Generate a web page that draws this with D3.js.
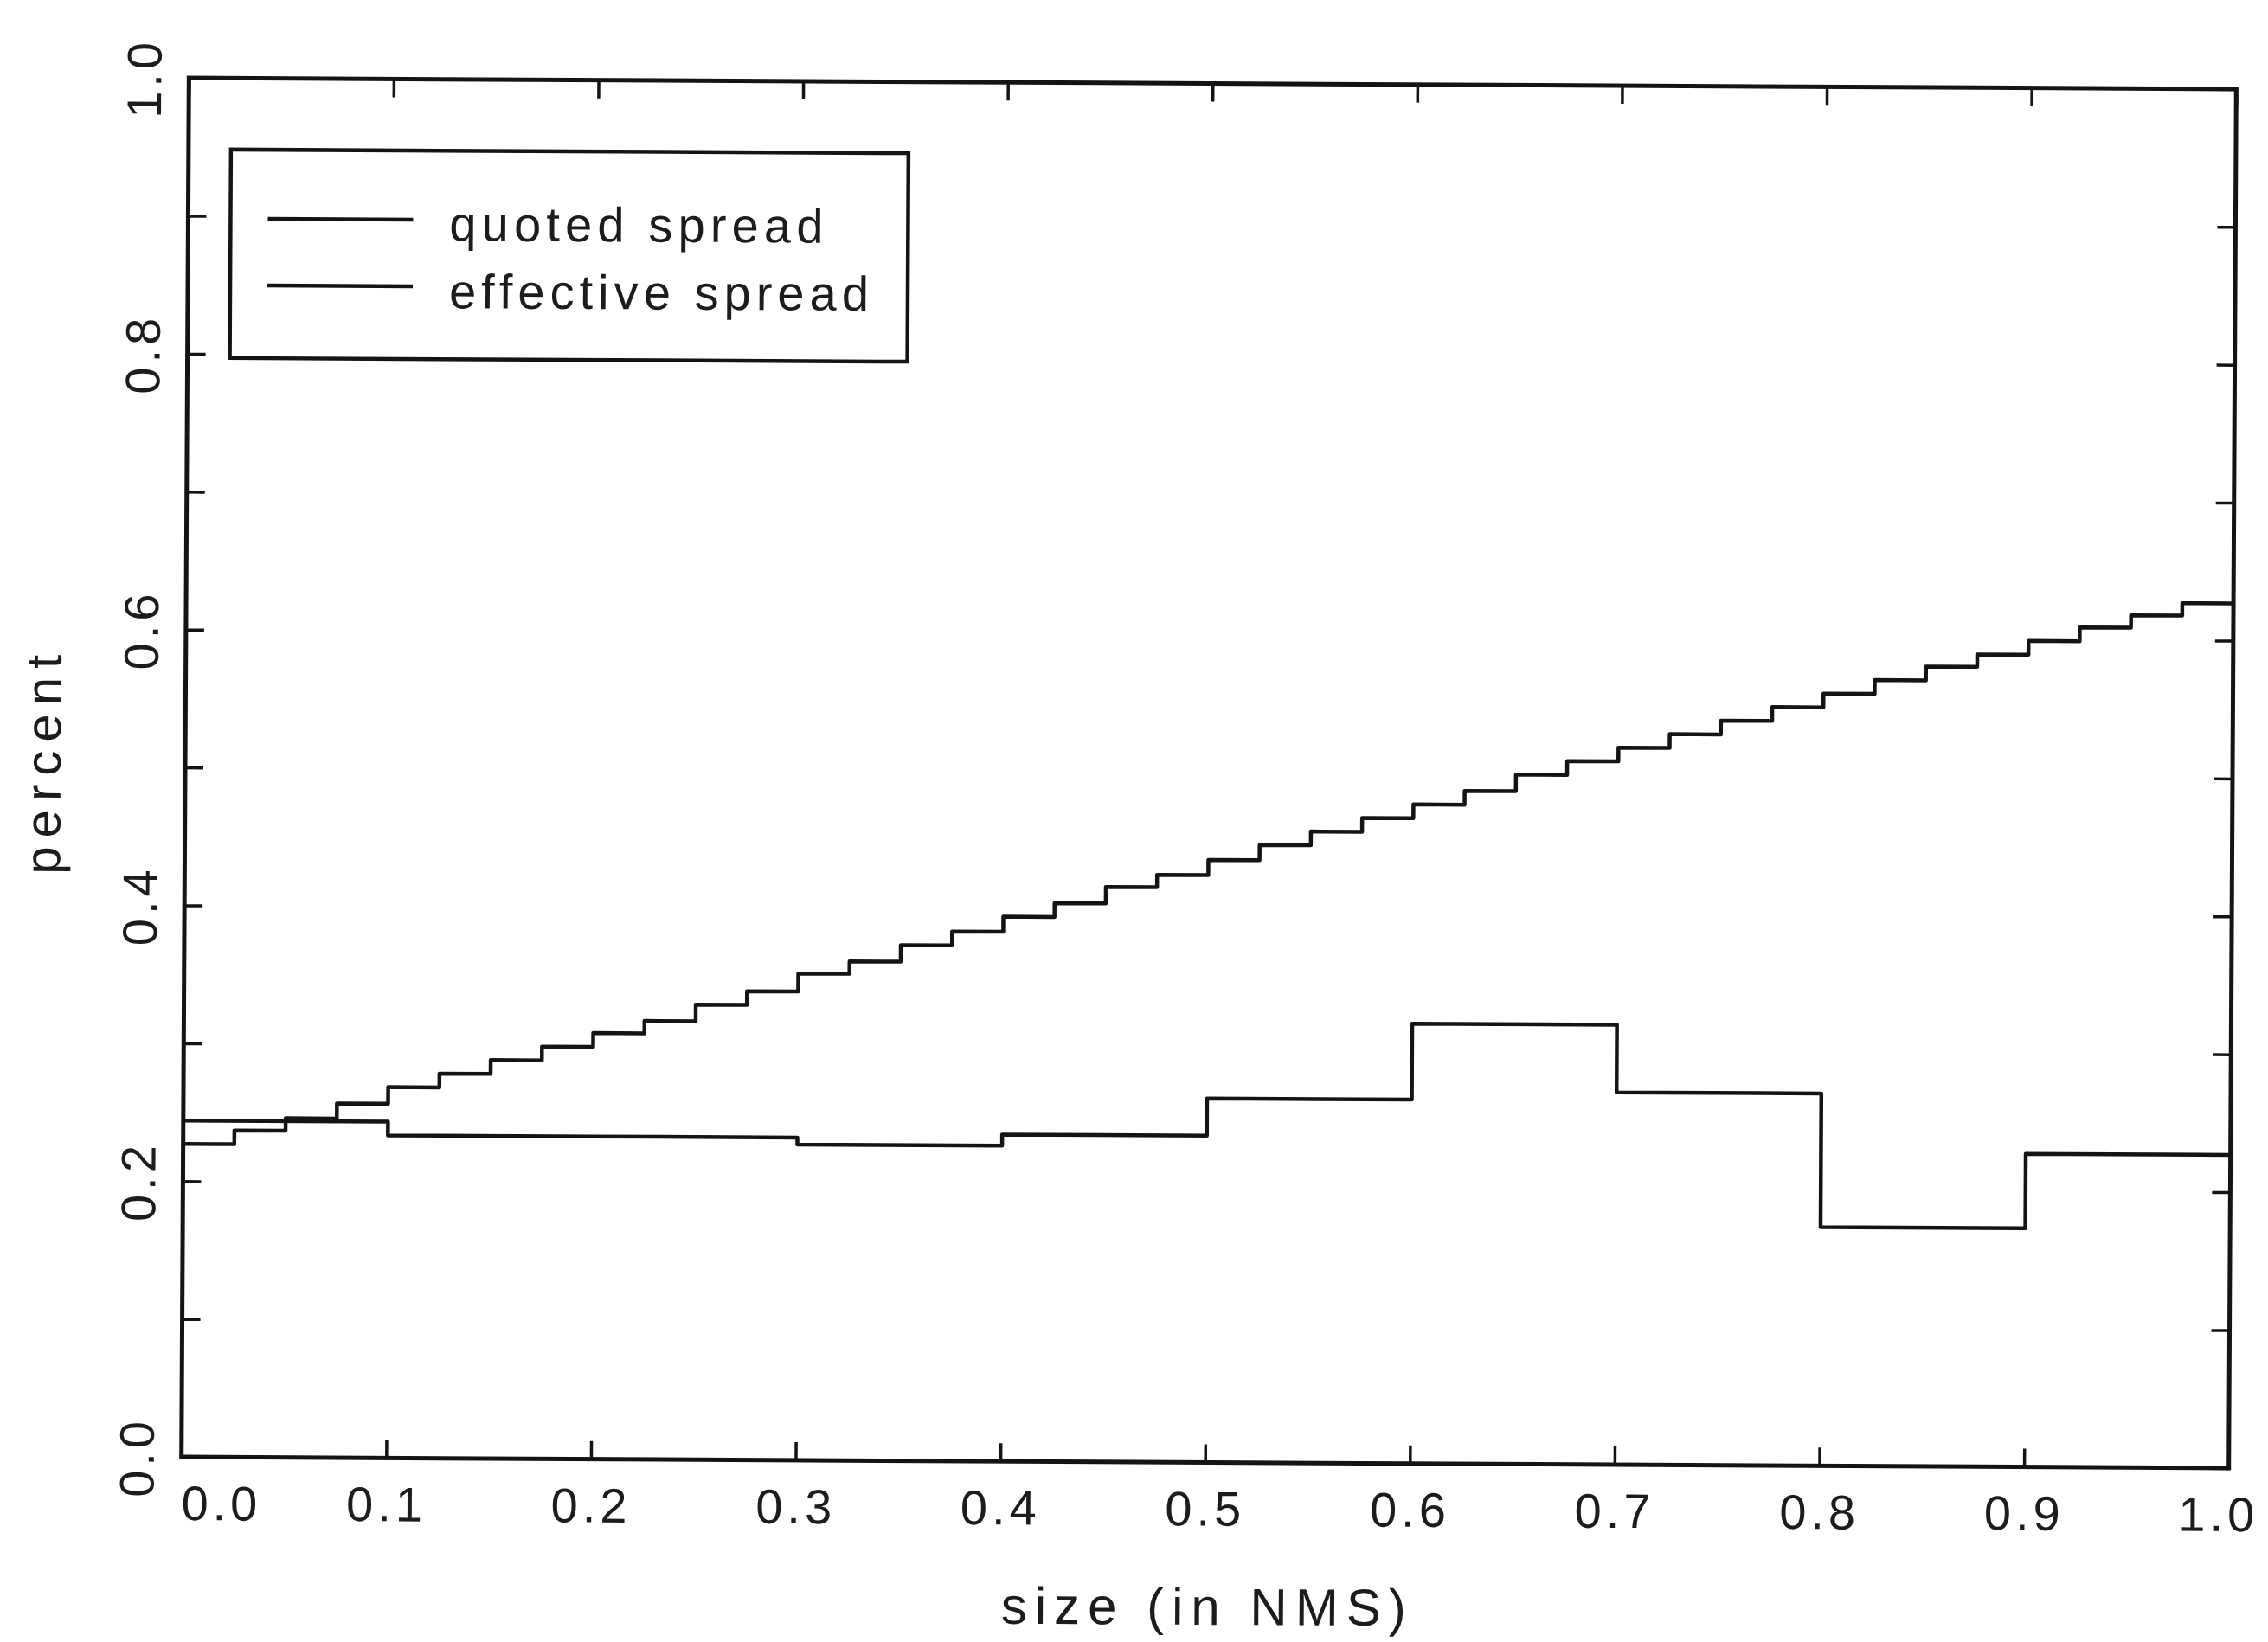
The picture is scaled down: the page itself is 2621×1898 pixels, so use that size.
<!DOCTYPE html>
<html>
<head>
<meta charset="utf-8">
<script src="https://cdn.jsdelivr.net/npm/d3@7"></script>
<style>
  html, body { margin: 0; padding: 0; background: #ffffff; }
  svg { display: block; }
  text { font-family: "Liberation Sans", "DejaVu Sans", sans-serif; fill: #1c1c1c; }
</style>
</head>
<body>
<svg id="chart" width="2621" height="1898"></svg>
<script>
// ---------------- data ----------------
const quotedBinStart = [0.000, 0.025, 0.050, 0.075, 0.100, 0.125, 0.150, 0.175, 0.200, 0.225,
                        0.250, 0.275, 0.300, 0.325, 0.350, 0.375, 0.400, 0.425, 0.450, 0.475,
                        0.500, 0.525, 0.550, 0.575, 0.600, 0.625, 0.650, 0.675, 0.700, 0.725,
                        0.750, 0.775, 0.800, 0.825, 0.850, 0.875, 0.900, 0.925, 0.950, 0.975];
const quotedSpread   = [0.227, 0.237, 0.246, 0.257, 0.269, 0.279, 0.289, 0.299, 0.309, 0.318,
                        0.330, 0.340, 0.353, 0.362, 0.374, 0.384, 0.395, 0.405, 0.417, 0.426,
                        0.437, 0.448, 0.458, 0.468, 0.478, 0.488, 0.500, 0.510, 0.520, 0.530,
                        0.540, 0.550, 0.560, 0.570, 0.580, 0.589, 0.599, 0.609, 0.618, 0.627];
const effectiveBinStart = [0.0, 0.1, 0.2, 0.3, 0.4, 0.5, 0.6, 0.7, 0.8, 0.9];
const effectiveSpread   = [0.244, 0.234, 0.234, 0.229, 0.237, 0.264, 0.319, 0.270, 0.173, 0.227];
const binEnd = 1.0;

const xTickValues = [0.0, 0.1, 0.2, 0.3, 0.4, 0.5, 0.6, 0.7, 0.8, 0.9, 1.0];
const xTickLabels = ["0.0", "0.1", "0.2", "0.3", "0.4", "0.5", "0.6", "0.7", "0.8", "0.9", "1.0"];
const yTickValues = [0.0, 0.1, 0.2, 0.3, 0.4, 0.5, 0.6, 0.7, 0.8, 0.9, 1.0];
const yLabelValues = [0.0, 0.2, 0.4, 0.6, 0.8, 1.0];
const yTickLabels = ["0.0", "0.2", "0.4", "0.6", "0.8", "1.0"];

const seriesNames = ["quoted spread", "effective spread"];
const xTitle = "size (in NMS)";
const yTitle = "percent";

// ---------------- layout ----------------
const plot = { left: 214, right: 2580, top: 96.5, bottom: 1690.5 };
const cx = (plot.left + plot.right) / 2, cy = (plot.top + plot.bottom) / 2;
const ink = "#141414";
const tickLen = 21;

const svg = d3.select("#chart");
svg.append("rect").attr("width", 2621).attr("height", 1898).attr("fill", "#ffffff");

// the scanned page is very slightly rotated
const g = svg.append("g").attr("transform", `rotate(0.31, ${cx}, ${cy})`);

const x = d3.scaleLinear().domain([0, 1]).range([plot.left, plot.right]);
const y = d3.scaleLinear().domain([0, 1]).range([plot.bottom, plot.top]);

// ---------------- axes ----------------
const fmtX = d => xTickLabels[xTickValues.indexOf(d)];

const gBottom = g.append("g").attr("transform", `translate(0,${plot.bottom})`)
  .call(d3.axisBottom(x).tickValues(xTickValues).tickSize(-tickLen).tickSizeOuter(0).tickFormat(fmtX));
const gTop = g.append("g").attr("transform", `translate(0,${plot.top})`)
  .call(d3.axisTop(x).tickValues(xTickValues).tickSize(-tickLen).tickSizeOuter(0).tickFormat(""));
const gLeft = g.append("g").attr("transform", `translate(${plot.left},0)`)
  .call(d3.axisLeft(y).tickValues(yTickValues).tickSize(-tickLen).tickSizeOuter(0).tickFormat(""));
const gLeftLab = g.append("g").attr("transform", `translate(${plot.left},0)`)
  .call(d3.axisLeft(y).tickValues(yLabelValues).tickSize(0).tickSizeOuter(0)
        .tickFormat(d => yTickLabels[yLabelValues.indexOf(d)]));
const gRight = g.append("g").attr("transform", `translate(${plot.right},0)`)
  .call(d3.axisRight(y).tickValues(yTickValues).tickSize(-tickLen).tickSizeOuter(0).tickFormat(""));

[gBottom, gTop, gLeft, gLeftLab, gRight].forEach(a => {
  a.select(".domain").remove();
  a.selectAll(".tick line").attr("stroke", ink).attr("stroke-width", 3.5);
});
gLeftLab.selectAll(".tick line").remove();

const nX = xTickValues.length;
gBottom.selectAll(".tick text")
  .attr("y", 73).attr("dy", 0)
  .attr("dx", (d, i) => i === 0 ? 46 : (i === nX - 1 ? -12 : 0))
  .attr("text-anchor", "middle")
  .style("font-size", "56px").style("letter-spacing", "5px")
  .attr("fill", "#1c1c1c");

gLeftLab.selectAll(".tick text")
  .attr("x", 0).attr("y", 0).attr("dy", 0)
  .attr("transform", "translate(-32,0) rotate(-90)")
  .attr("text-anchor", "middle")
  .style("font-size", "56px").style("letter-spacing", "5px")
  .attr("fill", "#1c1c1c");

// frame
g.append("rect")
  .attr("x", plot.left).attr("y", plot.top)
  .attr("width", plot.right - plot.left).attr("height", plot.bottom - plot.top)
  .attr("fill", "none").attr("stroke", ink).attr("stroke-width", 5);

// ---------------- series ----------------
const stepLine = d3.line().x(d => x(d[0])).y(d => y(d[1])).curve(d3.curveStepAfter);

const quotedPts = quotedBinStart.map((s, i) => [s, quotedSpread[i]]);
quotedPts.push([binEnd, quotedSpread[quotedSpread.length - 1]]);
const effectivePts = effectiveBinStart.map((s, i) => [s, effectiveSpread[i]]);
effectivePts.push([binEnd, effectiveSpread[effectiveSpread.length - 1]]);

g.append("path").datum(quotedPts).attr("d", stepLine)
  .attr("fill", "none").attr("stroke", ink).attr("stroke-width", 4.5).attr("stroke-linejoin", "round");
g.append("path").datum(effectivePts).attr("d", stepLine)
  .attr("fill", "none").attr("stroke", ink).attr("stroke-width", 4.5).attr("stroke-linejoin", "round");

// ---------------- titles ----------------
g.append("text").attr("x", 1396).attr("y", 1878)
  .attr("text-anchor", "middle")
  .attr("textLength", 468).attr("lengthAdjust", "spacing")
  .style("font-size", "60px").text(xTitle);

g.append("text")
  .attr("transform", `translate(70, 891) rotate(-90)`)
  .attr("text-anchor", "middle")
  .attr("textLength", 254).attr("lengthAdjust", "spacing")
  .style("font-size", "58px").text(yTitle);

// ---------------- legend ----------------
const leg = g.append("g");
leg.append("rect").attr("x", 263).attr("y", 179).attr("width", 783).attr("height", 241)
  .attr("fill", "#ffffff").attr("stroke", ink).attr("stroke-width", 4.5);
const legY = [259, 336];
const legBase = [283, 361];
const legLen = [432, 485];
seriesNames.forEach((name, i) => {
  leg.append("line").attr("x1", 306).attr("x2", 474).attr("y1", legY[i]).attr("y2", legY[i])
    .attr("stroke", ink).attr("stroke-width", 4.5);
  leg.append("text").attr("x", 516).attr("y", legBase[i])
    .attr("textLength", legLen[i]).attr("lengthAdjust", "spacing")
    .style("font-size", "56px").text(name);
});
</script>
</body>
</html>
